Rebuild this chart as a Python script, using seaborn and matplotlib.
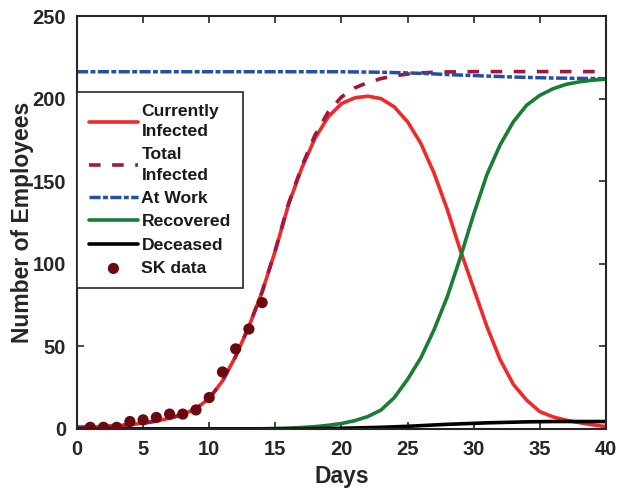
import numpy as np
import pandas as pd
import seaborn as sns
import matplotlib.pyplot as plt

# data (days 0..40)
days = list(range(0, 41))

currently_infected = [1.0, 1.1, 1.4, 1.9, 2.6, 3.5, 4.8, 6.5, 8.8, 12.3,
                      18.5, 29, 44, 62, 83, 108, 136, 158, 176, 189,
                      197, 200.5, 201.5, 200, 195, 186, 173, 155, 133, 108,
                      85, 62, 42, 27, 17.5, 10.5, 7.3, 5.3, 3.8, 2.5, 1.4]

total_infected = [1.0, 1.1, 1.4, 1.9, 2.6, 3.5, 4.8, 6.5, 8.8, 12.3,
                  18.5, 29, 44, 62, 83, 108.3, 136.5, 159, 178, 192,
                  201, 206.5, 209.8, 212.2, 213.8, 214.9, 215.6, 216, 216.2, 216.3,
                  216.4, 216.4, 216.4, 216.4, 216.4, 216.4, 216.4, 216.4, 216.4, 216.4, 216.4]

at_work = [216.3, 216.3, 216.3, 216.3, 216.3, 216.3, 216.3, 216.3, 216.3, 216.3,
           216.3, 216.3, 216.3, 216.3, 216.3, 216.3, 216.3, 216.3, 216.3, 216.3,
           216.3, 216.2, 216.1, 216.0, 215.8, 215.6, 215.3, 215.0, 214.6, 214.3,
           214.0, 213.7, 213.4, 213.1, 212.9, 212.7, 212.5, 212.4, 212.3, 212.2, 212.1]

recovered = [0, 0, 0, 0, 0, 0, 0, 0, 0, 0,
             0, 0, 0, 0, 0.1, 0.3, 0.5, 0.9, 1.4, 2.2,
             3.3, 5, 7.5, 11.5, 19, 30, 43, 60, 80, 104,
             130, 154, 172, 186, 196, 202, 206, 208.7, 210.2, 211.2, 211.8]

deceased = [0, 0, 0, 0, 0, 0, 0, 0, 0, 0,
            0, 0, 0, 0, 0, 0, 0.05, 0.1, 0.2, 0.3,
            0.4, 0.6, 0.8, 1.0, 1.3, 1.6, 2.0, 2.4, 2.8, 3.1,
            3.4, 3.7, 3.9, 4.1, 4.3, 4.4, 4.5, 4.5, 4.5, 4.5, 4.5]

sk_days = [1, 2, 3, 4, 5, 6, 7, 8, 9, 10, 11, 12, 13, 14]
sk_cases = [1, 1, 1, 4.5, 5.5, 7, 9, 9, 11.5, 19, 34.5, 48.5, 60.5, 76.5]

df = pd.DataFrame({'day': days, 'cur': currently_infected, 'tot': total_infected,
                   'work': at_work, 'rec': recovered, 'dec': deceased})
df_sk = pd.DataFrame({'day': sk_days, 'cases': sk_cases})

sns.set_style('ticks')
plt.rcParams['font.family'] = ['Liberation Sans', 'DejaVu Sans']
plt.rcParams['font.weight'] = 'bold'
plt.rcParams['axes.labelweight'] = 'bold'

dark = '#262626'

fig, ax = plt.subplots(figsize=(6.17, 4.88), dpi=100)
fig.subplots_adjust(left=0.1248, right=0.982, top=0.967, bottom=0.121)

lw = 2.6
sns.lineplot(data=df, x='day', y='cur', ax=ax, color='#EE2A2A', lw=lw, label='Currently\nInfected')
sns.lineplot(data=df, x='day', y='tot', ax=ax, color='#A3163F', lw=lw,
             linestyle=(0, (3.2, 3.2)), label='Total\nInfected')
sns.lineplot(data=df, x='day', y='work', ax=ax, color='#2350A3', lw=2.5,
             linestyle=(0, (3.2, 0.7, 1.4, 0.7)), label='At Work')
sns.lineplot(data=df, x='day', y='rec', ax=ax, color='#187D35', lw=lw, label='Recovered')
sns.lineplot(data=df, x='day', y='dec', ax=ax, color='black', lw=lw, label='Deceased')
sns.scatterplot(data=df_sk, x='day', y='cases', ax=ax, color='#6A0A0E', s=65,
                edgecolor='none', label='SK data', zorder=5)

ax.set_xlim(0, 40)
ax.set_ylim(0, 250)
ax.set_xticks(np.arange(0, 41, 5))
ax.set_yticks(np.arange(0, 251, 50))
ax.set_xlabel('Days', fontsize=16.5, color=dark, labelpad=4)
ax.set_ylabel('Number of Employees', fontsize=16.5, color=dark, labelpad=-1)
ax.tick_params(direction='in', top=True, right=True, length=5, width=1.2,
               labelsize=14.5, colors=dark, pad=8)
for lab in ax.get_xticklabels() + ax.get_yticklabels():
    lab.set_fontweight('bold')
for sp in ax.spines.values():
    sp.set_visible(True)
    sp.set_color(dark)
    sp.set_linewidth(1.5)

leg = ax.legend(loc='upper left', bbox_to_anchor=(0, 0.816), borderaxespad=0,
                fontsize=12.6, handlelength=2.8, handletextpad=0.2,
                labelspacing=0.46, borderpad=0.68, fancybox=False,
                framealpha=1, edgecolor=dark)
leg.get_frame().set_linewidth(1.2)
for t in leg.get_texts():
    t.set_fontweight('bold')
    t.set_color('#1a1a1a')
    t.set_linespacing(1.45)

fig.savefig('out.png', dpi=100)
